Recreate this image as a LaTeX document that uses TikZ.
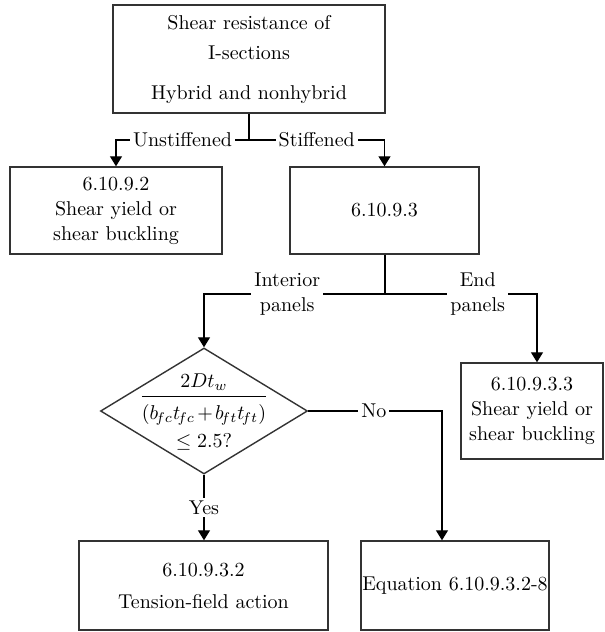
\documentclass[tikz,border=0pt]{standalone}
\usetikzlibrary{shapes.geometric,arrows.meta,positioning}

\begin{document}
\begin{tikzpicture}[x=0.5pt,y=-0.5pt]
		\tikzstyle{box}=[rectangle, draw=black!80, line width=0.7pt, align=center, inner sep=0pt, font=\fontsize{10}{12.5}\selectfont]
		\tikzstyle{decision}=[diamond, draw=black!80, line width=0.7pt, inner sep=0pt, minimum width=103.5pt, minimum height=63pt]
		\tikzstyle{connect}=[line width=0.6pt]
		\tikzstyle{arrow}=[connect, -{Triangle[length=5pt,width=6pt]}]
		\tikzstyle{branch}=[fill=white, inner sep=1.5pt, align=center, font=\fontsize{10}{12.5}\selectfont]
		\useasboundingbox (0,0) rectangle (605,632);
		
		\node[box, minimum width=136pt, minimum height=54pt]   (top)   at (249,59)      {Shear resistance of\\[2.5pt]I-sections\\[7.5pt]Hybrid and nonhybrid};
		\node[box, minimum width=106pt, minimum height=43.5pt] (unst)  at (116,210.5)   {6.10.9.2\\Shear yield or\\shear buckling};
		\node[box, minimum width=94.5pt, minimum height=43.5pt](stiff) at (384.5,210.5) {6.10.9.3};
		\node[box, minimum width=71pt, minimum height=48pt]    (endp)  at (532,411)     {6.10.9.3.3\\Shear yield or\\shear buckling};
		
		\node[decision] (cond)  at (204,411) {};
		\node[align=center, inner sep=0pt] (ratio) at (204,412) {$\displaystyle\frac{2Dt_w\rule[-2pt]{0pt}{1pt}}{\rule{0pt}{10pt}(b_{\!fc}t_{\!fc}\mkern-2mu+\mkern-2mu b_{\!ft}t_{\!ft})}$\\[3pt]$\leq 2.5$?};
		
		\node[box, minimum width=124.5pt, minimum height=44.5pt] (tfa) at (203.5,585.5) {6.10.9.3.2\\[3.5pt]Tension-field action};
		\node[box, minimum width=94pt, minimum height=44.5pt]    (eqn) at (455,585.5)   {Equation 6.10.9.3.2-8};
		
		% bends of the connectors
		\coordinate (split)   at (249,140);
		\coordinate (fork)    at (385,294);
		\coordinate (endbend) at (537,294);
		\coordinate (nobend)  at (442,411);
		
		\draw[connect] (top) -- (split);
		\draw[arrow] (split) -| node[branch, pos=0.25] {Unstiffened} (unst);
		\draw[arrow] (split) -| node[branch, pos=0.25] {Stiffened} (stiff);
		
		\draw[connect] (stiff.south -| fork) -- (fork);
		\draw[arrow] (fork) -| node[branch, pos=0.27] {Interior\\panels} (cond);
		\draw[arrow] (fork) -- node[branch, pos=0.61] {End\\panels} (endbend) -- (endbend |- endp.north);
		
		\draw[arrow] (cond.south) -- node[branch] {Yes} (cond.south |- tfa.north);
		\draw[arrow] (cond.east) -- node[branch, pos=0.49] {No} (nobend) -- (nobend |- eqn.north);
		
\end{tikzpicture}
\end{document}
